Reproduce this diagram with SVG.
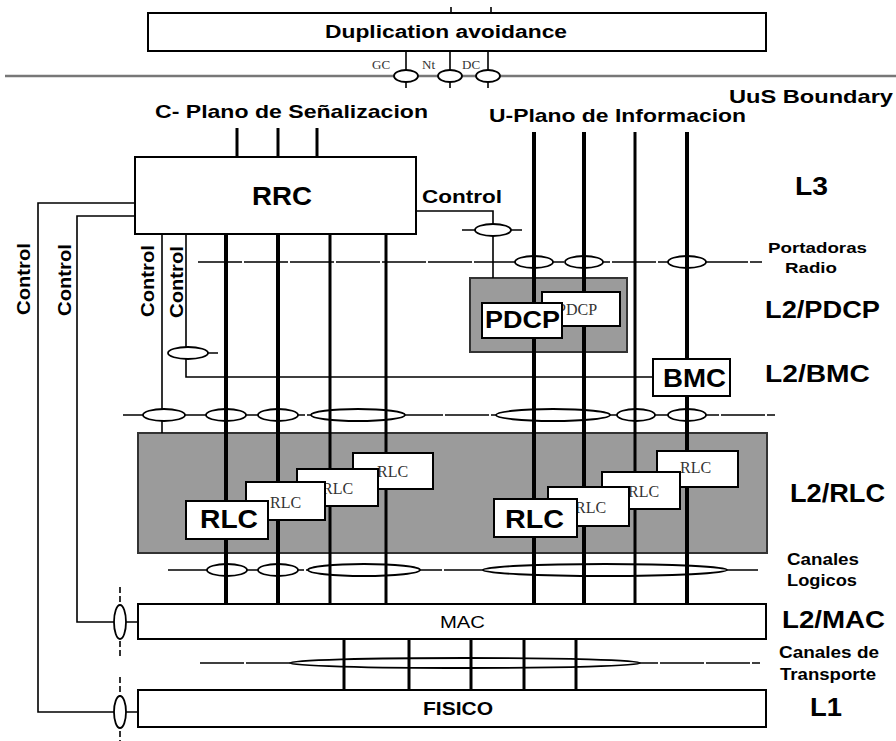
<svg xmlns="http://www.w3.org/2000/svg" width="896" height="741" viewBox="0 0 896 741">
<style>
.box{fill:#fff;stroke:#000;stroke-width:2}
.gray{fill:#9b9b9b;stroke:#333;stroke-width:2}
.thin{stroke:#000;stroke-width:1.6;fill:none}
.ch{stroke:#000;stroke-width:1.4;fill:none;stroke-dasharray:44 2}
.thick{stroke:#000;stroke-width:4;fill:none}
.mid{stroke:#000;stroke-width:3;fill:none}
.ell{fill:#fff;stroke:#000;stroke-width:1.8}
.b{font-family:"Liberation Sans",Arial,sans-serif;font-weight:bold;fill:#000}
.r{font-family:"Liberation Sans",Arial,sans-serif;fill:#000}
.t{font-family:"Liberation Serif","Times New Roman",serif;fill:#333}
</style>
<rect width="896" height="741" fill="#fff"/>

<g id="pdcp-layer"><rect class="gray" x="470" y="278" width="157" height="74"/></g>
<g id="rlc-layer"><rect class="gray" x="138" y="433" width="629" height="120"/></g>

<g id="connectors">
  <line x1="5" y1="76" x2="896" y2="76" stroke="#777" stroke-width="2.5"/>
  <line class="ch" x1="198" y1="262" x2="762" y2="262"/>
  <line class="ch" x1="123" y1="415" x2="775" y2="415"/>
  <line class="ch" x1="168" y1="570" x2="758" y2="570"/>
  <line class="ch" x1="200" y1="663" x2="760" y2="663"/>
  <line class="thin" x1="462" y1="230" x2="522" y2="230"/>
  <line class="thin" x1="168" y1="353" x2="218" y2="353"/>
  <path class="thin" d="M135,203 H38 V712 H138"/>
  <path class="thin" d="M135,216 H77 V622 H138"/>
  <path class="thin" d="M162,234 V433"/>
  <path class="thin" d="M186,234 V377 H653"/>
  <path class="thin" d="M416,211 H493 V278"/>
  <line class="thin" x1="120" y1="587" x2="120" y2="656" stroke-dasharray="6 3"/>
  <line class="thin" x1="120" y1="677" x2="120" y2="741" stroke-dasharray="6 3"/>
  <line class="thin" x1="406" y1="51" x2="406" y2="88"/>
  <line class="thin" x1="450" y1="51" x2="450" y2="88"/>
  <line class="thin" x1="488" y1="51" x2="488" y2="88"/>
  <line class="thin" x1="451" y1="7" x2="451" y2="13"/>
  <line class="thin" x1="491" y1="7" x2="491" y2="13"/>
  <ellipse class="ell" cx="406" cy="76" rx="12" ry="6"/>
  <ellipse class="ell" cx="450" cy="76" rx="12" ry="6"/>
  <ellipse class="ell" cx="488" cy="76" rx="12" ry="6"/>
  <ellipse class="ell" cx="493" cy="230" rx="18" ry="6"/>
  <ellipse class="ell" cx="534" cy="262" rx="19" ry="6"/>
  <ellipse class="ell" cx="584" cy="262" rx="19" ry="6"/>
  <ellipse class="ell" cx="687" cy="262" rx="19" ry="6"/>
  <ellipse class="ell" cx="188" cy="353" rx="20" ry="6"/>
  <ellipse class="ell" cx="164" cy="415" rx="21" ry="6"/>
  <ellipse class="ell" cx="226" cy="415" rx="20" ry="6"/>
  <ellipse class="ell" cx="278" cy="415" rx="20" ry="6"/>
  <ellipse class="ell" cx="358" cy="415" rx="47" ry="6"/>
  <ellipse class="ell" cx="553" cy="415" rx="57" ry="6"/>
  <ellipse class="ell" cx="636" cy="415" rx="19" ry="6"/>
  <ellipse class="ell" cx="687" cy="415" rx="19" ry="6"/>
  <ellipse class="ell" cx="227" cy="570" rx="20" ry="6"/>
  <ellipse class="ell" cx="278" cy="570" rx="20" ry="6"/>
  <ellipse class="ell" cx="364" cy="570" rx="56" ry="6"/>
  <ellipse class="ell" cx="605" cy="570" rx="122" ry="6"/>
  <ellipse class="ell" cx="465" cy="663" rx="175" ry="5"/>
  <ellipse class="ell" cx="120" cy="622" rx="6" ry="17"/>
  <ellipse class="ell" cx="120" cy="712" rx="6" ry="16"/>
  <line class="mid" x1="237" y1="128" x2="237" y2="157"/>
  <line class="mid" x1="278" y1="128" x2="278" y2="157"/>
  <line class="mid" x1="317" y1="128" x2="317" y2="157"/>
  <line class="thick" x1="534" y1="132" x2="534" y2="604"/>
  <line class="thick" x1="584" y1="132" x2="584" y2="604"/>
  <line class="mid" x1="635" y1="132" x2="635" y2="604" stroke-width="2.5"/>
  <line class="thick" x1="687" y1="132" x2="687" y2="604"/>
  <line class="thick" x1="226" y1="234" x2="226" y2="604"/>
  <line class="thick" x1="278" y1="234" x2="278" y2="604"/>
  <line class="mid" x1="330" y1="234" x2="330" y2="604" stroke-width="3.5"/>
  <line class="mid" x1="386" y1="234" x2="386" y2="604" stroke-width="3.5"/>
  <line class="mid" x1="344" y1="639" x2="344" y2="690" stroke-width="3.5"/>
  <line class="mid" x1="409" y1="639" x2="409" y2="690" stroke-width="3.5"/>
  <line class="mid" x1="471" y1="639" x2="471" y2="690" stroke-width="3.5"/>
  <line class="mid" x1="524" y1="639" x2="524" y2="690" stroke-width="3.5"/>
  <line class="mid" x1="576" y1="639" x2="576" y2="690" stroke-width="3.5"/>
</g>

<g id="dup">
  <rect class="box" x="148" y="13" width="618" height="38"/>
  <text class="b" x="325" y="38" font-size="18" textLength="242" lengthAdjust="spacingAndGlyphs">Duplication avoidance</text>
</g>
<g id="rrc">
  <rect class="box" x="135" y="157" width="281" height="77"/>
  <text class="b" x="252" y="205" font-size="26" textLength="60" lengthAdjust="spacingAndGlyphs">RRC</text>
</g>
<g id="pdcp2">
  <rect class="box" x="542" y="292" width="78" height="34" stroke-width="1.5"/>
  <text class="t" x="557" y="315" font-size="16">PDCP</text>
</g>
<g id="pdcp1">
  <rect class="box" x="482" y="303" width="80" height="35"/>
  <text class="b" x="485" y="328" font-size="24" textLength="75" lengthAdjust="spacingAndGlyphs">PDCP</text>
</g>
<g id="bmc">
  <rect class="box" x="653" y="359" width="77" height="37"/>
  <text class="b" x="663" y="387" font-size="26" textLength="63" lengthAdjust="spacingAndGlyphs">BMC</text>
</g>
<g id="rlc-l4"><rect class="box" x="353" y="453" width="80" height="36" stroke-width="1.5"/><text class="t" x="377" y="477" font-size="16">RLC</text></g>
<g id="rlc-l3"><rect class="box" x="297" y="469" width="81" height="37" stroke-width="1.5"/><text class="t" x="322" y="494" font-size="16">RLC</text></g>
<g id="rlc-l2"><rect class="box" x="246" y="482" width="79" height="38" stroke-width="1.5"/><text class="t" x="270" y="508" font-size="16">RLC</text></g>
<g id="rlc-l1"><rect class="box" x="186" y="501" width="82" height="38"/><text class="b" x="200" y="528" font-size="26" textLength="58" lengthAdjust="spacingAndGlyphs">RLC</text></g>
<g id="rlc-r4"><rect class="box" x="657" y="451" width="81" height="36" stroke-width="1.5"/><text class="t" x="680" y="473" font-size="16">RLC</text></g>
<g id="rlc-r3"><rect class="box" x="602" y="472" width="78" height="37" stroke-width="1.5"/><text class="t" x="628" y="497" font-size="16">RLC</text></g>
<g id="rlc-r2"><rect class="box" x="548" y="487" width="81" height="39" stroke-width="1.5"/><text class="t" x="575" y="513" font-size="16">RLC</text></g>
<g id="rlc-r1"><rect class="box" x="494" y="499" width="83" height="38"/><text class="b" x="505" y="528" font-size="26" textLength="59" lengthAdjust="spacingAndGlyphs">RLC</text></g>
<g id="mac">
  <rect class="box" x="138" y="604" width="628" height="35"/>
  <text class="r" x="440" y="628" font-size="17" textLength="45" lengthAdjust="spacingAndGlyphs">MAC</text>
</g>
<g id="fisico">
  <rect class="box" x="138" y="690" width="628" height="37"/>
  <text class="b" x="423" y="715" font-size="19" textLength="70" lengthAdjust="spacingAndGlyphs">FISICO</text>
</g>

<g id="labels">
  <text class="t" x="372" y="69" font-size="13">GC</text>
  <text class="t" x="422" y="69" font-size="13">Nt</text>
  <text class="t" x="462" y="69" font-size="13">DC</text>
  <text class="b" x="729" y="103" font-size="19" textLength="164" lengthAdjust="spacingAndGlyphs">UuS Boundary</text>
  <text class="b" x="155" y="118" font-size="19" textLength="273" lengthAdjust="spacingAndGlyphs">C- Plano de Señalizacion</text>
  <text class="b" x="489" y="122" font-size="19" textLength="257" lengthAdjust="spacingAndGlyphs">U-Plano de Informacion</text>
  <text class="b" x="422" y="203" font-size="19" textLength="80" lengthAdjust="spacingAndGlyphs">Control</text>
  <text class="b" font-size="18" text-anchor="middle" textLength="72" lengthAdjust="spacingAndGlyphs" transform="translate(30,279) rotate(-90)">Control</text>
  <text class="b" font-size="18" text-anchor="middle" textLength="72" lengthAdjust="spacingAndGlyphs" transform="translate(71,280) rotate(-90)">Control</text>
  <text class="b" font-size="18" text-anchor="middle" textLength="72" lengthAdjust="spacingAndGlyphs" transform="translate(154,281) rotate(-90)">Control</text>
  <text class="b" font-size="18" text-anchor="middle" textLength="72" lengthAdjust="spacingAndGlyphs" transform="translate(183,282) rotate(-90)">Control</text>
  <text class="b" x="795" y="195" font-size="25" textLength="33" lengthAdjust="spacingAndGlyphs">L3</text>
  <text class="b" x="768" y="253" font-size="15" textLength="99" lengthAdjust="spacingAndGlyphs">Portadoras</text>
  <text class="b" x="785" y="273" font-size="15" textLength="52" lengthAdjust="spacingAndGlyphs">Radio</text>
  <text class="b" x="765" y="318" font-size="24" textLength="115" lengthAdjust="spacingAndGlyphs">L2/PDCP</text>
  <text class="b" x="765" y="382" font-size="24" textLength="105" lengthAdjust="spacingAndGlyphs">L2/BMC</text>
  <text class="b" x="790" y="502" font-size="25" textLength="95" lengthAdjust="spacingAndGlyphs">L2/RLC</text>
  <text class="b" x="787" y="565" font-size="16" textLength="72" lengthAdjust="spacingAndGlyphs">Canales</text>
  <text class="b" x="787" y="586" font-size="16" textLength="70" lengthAdjust="spacingAndGlyphs">Logicos</text>
  <text class="b" x="782" y="628" font-size="24" textLength="103" lengthAdjust="spacingAndGlyphs">L2/MAC</text>
  <text class="b" x="779" y="658" font-size="16" textLength="100" lengthAdjust="spacingAndGlyphs">Canales de</text>
  <text class="b" x="780" y="680" font-size="16" textLength="96" lengthAdjust="spacingAndGlyphs">Transporte</text>
  <text class="b" x="810" y="716" font-size="25" textLength="32" lengthAdjust="spacingAndGlyphs">L1</text>
</g>
</svg>
